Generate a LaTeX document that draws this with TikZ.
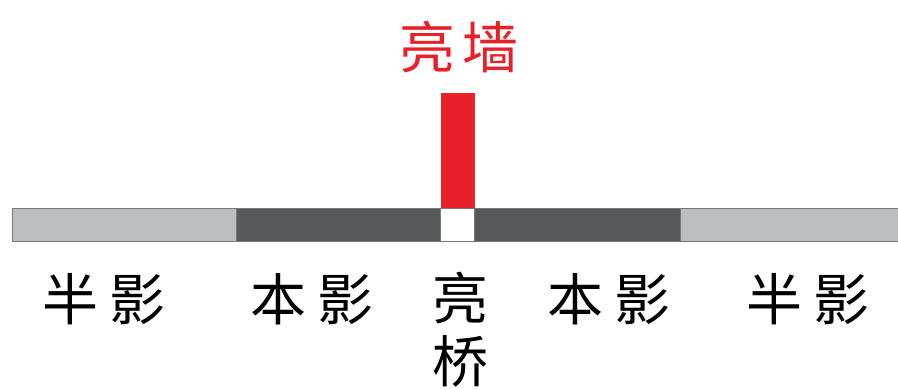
\documentclass[tikz,border=0pt]{standalone}
\usepackage{fontspec}
\newfontfamily\cjk{Noto Sans CJK SC}
\definecolor{lightseg}{HTML}{BCBDBF}
\definecolor{darkseg}{HTML}{58595B}
\definecolor{edgegray}{HTML}{77787A}
\definecolor{wallred}{HTML}{E8202A}
\tikzset{
  seg/.style={draw=edgegray, line width=1.2pt, inner sep=0pt, minimum height=33pt, anchor=north west},
  lbl/.style={inner sep=0pt, font=\cjk\fontsize{56}{63}\selectfont, text=black, align=center},
}
\begin{document}
\begin{tikzpicture}[x=1pt,y=-1pt]
\useasboundingbox (0,0) rectangle (898,390);
% bar segments
\node[seg, fill=lightseg, minimum width=224pt] (p1) at (12,208) {};
\node[seg, fill=darkseg, minimum width=204pt] (u1) at (236,208) {};
\node[seg, fill=white, minimum width=34pt] (b) at (440,208) {};
\node[seg, fill=darkseg, minimum width=206pt] (u2) at (474,208) {};
\node[seg, fill=lightseg, minimum width=222pt] (p2) at (680,208) {};
% red wall
\node[fill=wallred, inner sep=0pt, minimum width=34pt, minimum height=115pt, anchor=south] (wall) at (b.north) {};
% labels
\node[lbl, text=wallred] (title) at (459,47) {亮\hspace{8pt}墙};
\node[lbl] (l1) at (104,299) {半\hspace{12pt}影};
\node[lbl] (l2) at (312,299) {本\hspace{12pt}影};
\node[lbl] (l3) at (460,330) {亮\\桥};
\node[lbl] (l4) at (609,299) {本\hspace{12pt}影};
\node[lbl] (l5) at (808,299) {半\hspace{12pt}影};
\end{tikzpicture}
\end{document}
